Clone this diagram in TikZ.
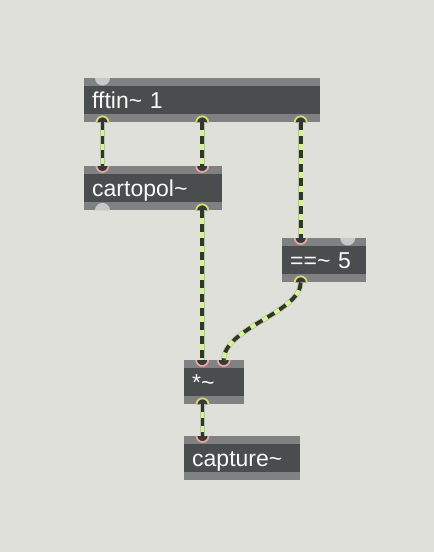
\documentclass[tikz,border=0pt]{standalone}
\usepackage{fontspec}
\setmainfont{Liberation Sans}
\definecolor{patchbg}{HTML}{DFE0DA}
\definecolor{objstrip}{HTML}{808183}
\definecolor{objbody}{HTML}{4A4D4D}
\definecolor{portdark}{HTML}{363939}
\definecolor{outcol}{HTML}{D8DA6C}
\definecolor{incol}{HTML}{EBA39F}
\definecolor{freeport}{HTML}{C8C8C8}
\definecolor{cordlight}{HTML}{D4F78C}
\definecolor{corddark}{HTML}{303726}
\definecolor{cordhalo}{HTML}{B9BDAE}
\tikzset{
  obj/.style={fill=objstrip, anchor=north west, minimum height=44pt,
    inner xsep=8pt, inner ysep=0pt, text=white!95!gray, align=left,
    font=\fontsize{23}{27}\selectfont, text height=16.5pt, text depth=0pt,
    path picture={\fill[objbody] ([yshift=-8pt]path picture bounding box.north west)
      rectangle ([yshift=8pt]path picture bounding box.south east);}},
  cord/.style={draw=cordlight, line width=3.8pt,
    preaction={draw=cordhalo, line width=5.2pt},
    postaction={draw=corddark, dash pattern=on 8pt off 6pt}},
  outring/.style={draw=outcol, line width=1.8pt},
  inring/.style={draw=incol, line width=1.8pt}
}
\newcommand{\outport}[1]{%
  \fill[portdark] ([xshift=-6pt]#1) arc[start angle=180, end angle=0, radius=6pt] -- cycle;
  \draw[outring] ([xshift=-6pt]#1) arc[start angle=180, end angle=0, radius=6pt];}
\newcommand{\inport}[1]{%
  \fill[portdark] ([xshift=-6pt]#1) arc[start angle=180, end angle=360, radius=6pt] -- cycle;
  \draw[inring] ([xshift=-6pt]#1) arc[start angle=180, end angle=360, radius=6pt];}
\begin{document}
\begin{tikzpicture}[x=1pt, y=-1pt]
  \fill[patchbg] (0,0) rectangle (434,552);
  \useasboundingbox (0,0) rectangle (434,552);
  % objects
  \node[obj, text width=220pt] (fftin) at (84,78) {fftin\textasciitilde{} 1};
  \node[obj, text width=122pt] (cartopol) at (84,166) {cartopol\textasciitilde};
  \node[obj, text width=68pt] (eq) at (282,238) {==\textasciitilde{} 5};
  \node[obj, text width=44pt] (mult) at (184,360) {*\textasciitilde};
  \node[obj, text width=100pt] (capture) at (184,436) {capture\textasciitilde};
  % ports
  \coordinate (fftin-in1) at ([xshift=18.5pt]fftin.north west);
  \coordinate (fftin-out1) at ([xshift=18.5pt]fftin.south west);
  \coordinate (fftin-out2) at ([xshift=118.2pt]fftin.south west);
  \coordinate (fftin-out3) at ([xshift=216.7pt]fftin.south west);
  \coordinate (cartopol-in1) at ([xshift=18.5pt]cartopol.north west);
  \coordinate (cartopol-in2) at ([xshift=118.2pt]cartopol.north west);
  \coordinate (cartopol-out1) at ([xshift=18.5pt]cartopol.south west);
  \coordinate (cartopol-out2) at ([xshift=118.2pt]cartopol.south west);
  \coordinate (eq-in1) at ([xshift=18.7pt]eq.north west);
  \coordinate (eq-in2) at ([xshift=-18.7pt]eq.north east);
  \coordinate (eq-out1) at ([xshift=18.7pt]eq.south west);
  \coordinate (mult-in1) at ([xshift=18.2pt]mult.north west);
  \coordinate (mult-in2) at ([xshift=39.7pt]mult.north west);
  \coordinate (mult-out1) at ([xshift=18.5pt]mult.south west);
  \coordinate (capture-in1) at ([xshift=18.5pt]capture.north west);
  \foreach \p in {fftin-out1, fftin-out2, fftin-out3, cartopol-out2, eq-out1, mult-out1}
    {\outport{\p}}
  \foreach \p in {cartopol-in1, cartopol-in2, eq-in1, mult-in1, mult-in2, capture-in1}
    {\inport{\p}}
  \fill[freeport] ([xshift=-7.5pt]fftin-in1) arc[start angle=180, end angle=360, radius=7.5pt] -- cycle;
  \fill[freeport] ([xshift=-7.5pt]eq-in2) arc[start angle=180, end angle=360, radius=7.5pt] -- cycle;
  \fill[freeport] ([xshift=-7.5pt]cartopol-out1) arc[start angle=180, end angle=0, radius=7.5pt] -- cycle;
  % patch cords
  \draw[cord] (fftin-out1) -- (cartopol-in1);
  \draw[cord] (fftin-out2) -- (cartopol-in2);
  \draw[cord] (fftin-out3) -- (eq-in1);
  \draw[cord] (cartopol-out2) -- (mult-in1);
  \draw[cord] (eq-out1) .. controls ([yshift=-30pt]eq-out1) and ([yshift=32pt]mult-in2) .. (mult-in2);
  \draw[cord] (mult-out1) -- (capture-in1);
\end{tikzpicture}
\end{document}
